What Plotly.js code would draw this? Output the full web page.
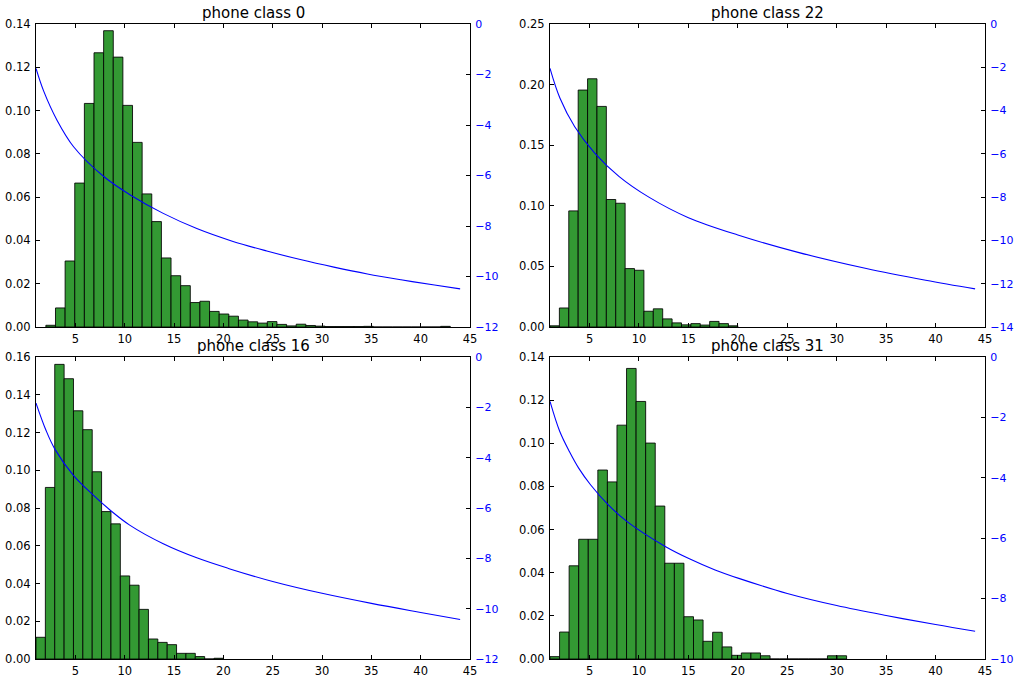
<!DOCTYPE html>
<html>
<head>
<meta charset="utf-8">
<script src="https://cdn.plot.ly/plotly-3.0.1.min.js"></script>
<style>
  html, body { margin: 0; padding: 0; background: #ffffff; }
  #chart { width: 1015px; height: 677px; }
</style>
</head>
<body>
<div id="chart"></div>
<script>
// ---------- data ----------
const titles = ['phone class 0', 'phone class 22', 'phone class 16', 'phone class 31'];

// histogram bin ranges (data min / max) and densities per bin
const binLo = [2, 1, 1, 1];
const binHi = [43, 20, 20, 31];

const hist0 = [0.0008, 0.0088, 0.0305, 0.0665, 0.1033, 0.1267, 0.1369, 0.1247, 0.1024, 0.0853,
               0.0615, 0.0487, 0.0319, 0.0237, 0.0191, 0.0113, 0.0119, 0.0072, 0.0060, 0.0050,
               0.0032, 0.0024, 0.0018, 0.0025, 0.0012, 0.0005, 0.0013, 0.0007, 0.0004, 0.0002,
               0.0002, 0.0002, 0.0002, 0.0003, 0, 0, 0, 0, 0, 0, 0, 0.0003];
const hist22 = [0.0010, 0.0157, 0.0958, 0.1955, 0.2048, 0.1820, 0.1052, 0.1021, 0.0482, 0.0468,
                0.0130, 0.0150, 0.0067, 0.0034, 0.0018, 0.0028, 0.0016, 0.0046, 0.0028, 0.0010];
const hist16 = [0.0115, 0.0909, 0.1561, 0.1485, 0.1315, 0.1215, 0.0992, 0.0781, 0.0716, 0.0440,
                0.0391, 0.0263, 0.0106, 0.0088, 0.0076, 0.0030, 0.0030, 0.0013, 0, 0.0004];
const hist31 = [0.0011, 0.0125, 0.0432, 0.0555, 0.0555, 0.0876, 0.0821, 0.1084, 0.1347, 0.1194,
                0.1001, 0.0709, 0.0444, 0.0444, 0.0196, 0.0181, 0.0082, 0.0124, 0.0056, 0.0017,
                0.0028, 0.0028, 0.0015, 0, 0, 0, 0, 0, 0, 0.0015, 0.0015];

// blue curves (right axis)
const curveX0 = [1, 1.77, 3.13, 4.81, 7.9, 10.6, 13.9, 17.3, 20.9, 24.4, 27.8, 31.2, 34.6, 38, 41.4, 44];
const curveY0 = [-1.76, -2.65, -3.81, -4.86, -6.05, -6.78, -7.5, -8.1, -8.6, -8.99, -9.33, -9.63, -9.9, -10.13, -10.34, -10.49];
const curveX22 = [1, 2, 3.5, 5.5, 8, 11, 15, 20, 26, 33, 39, 44];
const curveY22 = [-2.05, -3.42, -4.75, -5.95, -7.05, -8.0, -8.95, -9.75, -10.54, -11.3, -11.84, -12.24];
const curveX16 = [1, 2.0, 2.9, 4.75, 6.7, 8.5, 10.5, 13.9, 17.3, 20.5, 25, 30, 35, 40, 44];
const curveY16 = [-1.83, -2.9, -3.65, -4.68, -5.45, -6.08, -6.68, -7.42, -7.98, -8.4, -8.92, -9.39, -9.79, -10.15, -10.43];
const curveX31 = [1, 1.98, 2.96, 3.9, 5.1, 6.9, 8.8, 12.7, 15.1, 17.7, 20.1, 25, 30, 35, 40, 44];
const curveY31 = [-1.47, -2.46, -3.13, -3.68, -4.23, -4.9, -5.45, -6.28, -6.68, -7.05, -7.33, -7.83, -8.23, -8.56, -8.86, -9.08];

// axis limits / tick steps
const leftMax = [0.14, 0.25, 0.16, 0.14];
const leftStep = [0.02, 0.05, 0.02, 0.02];
const rightMin = [-12, -14, -12, -10];
const xTicks = [5, 10, 15, 20, 25, 30, 35, 40, 45];

// ---------- build ----------
const hists = [hist0, hist22, hist16, hist31];
const curvesX = [curveX0, curveX22, curveX16, curveX31];
const curvesY = [curveY0, curveY22, curveY16, curveY31];

const W = 1015, H = 677;
// panel boxes in pixels: [left, right, top, bottom]
const boxes = [
  [36, 470, 24, 327],
  [550, 985, 24, 327],
  [36, 470, 357, 659],
  [550, 985, 357, 659]
];

const FONT = 'DejaVu Sans, Bitstream Vera Sans, sans-serif';
const TICK = 11.5;
const traces = [];
const layout = {
  width: W, height: H, autosize: false,
  margin: {l: 0, r: 0, t: 0, b: 0, pad: 0},
  paper_bgcolor: '#ffffff', plot_bgcolor: '#ffffff',
  showlegend: false, hovermode: false,
  font: {family: FONT, size: TICK, color: '#000000'},
  annotations: []
};

for (let k = 0; k < 4; k++) {
  const n = hists[k].length;
  const w = (binHi[k] - binLo[k]) / n;
  const centers = hists[k].map((_, i) => binLo[k] + (i + 0.5) * w);
  const xa = k === 0 ? 'x' : 'x' + (k + 1);
  const ya = k === 0 ? 'y' : 'y' + (k + 1);
  const yr = 'y' + (k + 5);

  traces.push({
    type: 'bar', x: centers, y: hists[k], width: w,
    xaxis: xa, yaxis: ya,
    marker: {color: '#339933', line: {color: 'rgba(0,0,0,0.85)', width: 1}}
  });
  traces.push({
    type: 'scatter', mode: 'lines', x: curvesX[k], y: curvesY[k],
    xaxis: xa, yaxis: yr,
    line: {color: '#0000ff', width: 1.1, shape: 'spline', smoothing: 1}
  });

  const b = boxes[k];
  const xd = [b[0] / W, b[1] / W];
  const yd = [1 - b[3] / H, 1 - b[2] / H];
  const xKey = k === 0 ? 'xaxis' : 'xaxis' + (k + 1);
  const yKey = k === 0 ? 'yaxis' : 'yaxis' + (k + 1);
  const rKey = 'yaxis' + (k + 5);

  layout[xKey] = {
    domain: xd, anchor: ya, range: [1, 45],
    tickmode: 'array', tickvals: xTicks, ticktext: xTicks.map(String),
    ticks: 'inside', ticklen: 4, tickwidth: 1, tickcolor: '#000000',
    showline: true, linecolor: '#000000', linewidth: 1, mirror: 'ticks',
    showgrid: false, zeroline: false, fixedrange: true,
    tickfont: {family: FONT, size: TICK, color: '#000000'},
    ticklabelstandoff: 1
  };
  layout[yKey] = {
    domain: yd, anchor: xa, range: [0, leftMax[k]],
    tick0: 0, dtick: leftStep[k], tickformat: '.2f',
    ticks: 'inside', ticklen: 4, tickwidth: 1, tickcolor: '#000000',
    showline: true, linecolor: '#000000', linewidth: 1, mirror: false,
    showgrid: false, zeroline: false, fixedrange: true,
    tickfont: {family: FONT, size: TICK, color: '#000000'},
    ticklabelstandoff: 2
  };
  layout[rKey] = {
    overlaying: ya, anchor: xa, side: 'right', range: [rightMin[k], 0],
    tick0: 0, dtick: 2,
    ticks: 'inside', ticklen: 4, tickwidth: 1, tickcolor: '#000000',
    showline: true, linecolor: '#000000', linewidth: 1,
    showgrid: false, zeroline: false, fixedrange: true,
    tickfont: {family: FONT, size: 11, color: '#0000ff'},
    ticklabelstandoff: 2
  };

  layout.annotations.push({
    text: titles[k], xref: 'paper', yref: 'paper',
    x: (xd[0] + xd[1]) / 2, y: yd[1], xanchor: 'center', yanchor: 'bottom',
    yshift: 0, showarrow: false,
    font: {family: FONT, size: 15, color: '#000000'}
  });
}

Plotly.newPlot('chart', traces, layout, {displayModeBar: false, staticPlot: true});
</script>
</body>
</html>
